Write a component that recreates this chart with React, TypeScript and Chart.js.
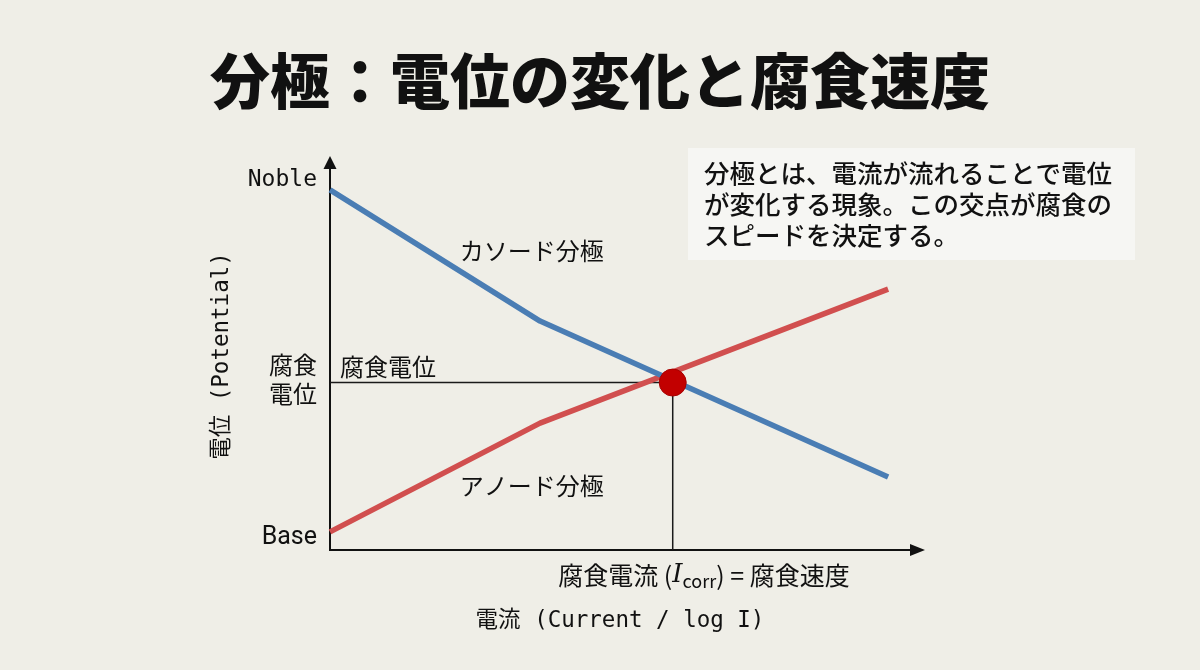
import React, { useEffect, useRef } from "react";
import { Chart, registerables } from "chart.js";

Chart.register(...registerables);

const TITLE = "分極：電位の変化と腐食速度";
const currentX = [0, 35.3, 93.8];
const cathodicY = [91.4, 58.1, 18.5];
const anodicY = [4.6, 32.2, 66.2];
const corrX = 57.6;
const corrY = 42.5;
const yTickValues = [94.0, 43.3, 3.0];
const yTickLabels = [["Noble"], ["腐食", "電位"], ["Base"]];
const curveLabels = ["カソード分極", "アノード分極", "腐食電位"];
const curveLabelX = [21.8, 21.8, 1.7];
const curveLabelY = [75.9, 16.2, 46.4];
const noteLines = [
  "分極とは、電流が流れることで電位",
  "が変化する現象。この交点が腐食の",
  "スピードを決定する。",
];
const yAxisTitle = "電位 (Potential)";
const xAxisTitle = "電流 (Current / log I)";

const BG = "#efeee7";
const CJK = "'Noto Sans CJK JP'";
const MONO = "'DejaVu Sans Mono', 'Noto Sans CJK JP'";

const decor = {
  id: "decor",
  beforeDraw(chart: any) {
    const { ctx, width, height } = chart;
    ctx.save();
    ctx.fillStyle = BG;
    ctx.fillRect(0, 0, width, height);
    ctx.restore();
  },
  beforeDatasetsDraw(chart: any) {
    const { ctx, chartArea: a, scales } = chart;
    const x0 = scales.x.getPixelForValue(0);
    const y0 = scales.y.getPixelForValue(0);
    ctx.save();
    ctx.strokeStyle = "#111";
    ctx.fillStyle = "#111";
    ctx.lineWidth = 2;
    ctx.beginPath();
    ctx.moveTo(x0, y0);
    ctx.lineTo(x0, a.top + 10);
    ctx.moveTo(x0 - 1, y0);
    ctx.lineTo(a.right - 10, y0);
    ctx.stroke();
    ctx.beginPath();
    ctx.moveTo(x0, a.top);
    ctx.lineTo(x0 - 6.5, a.top + 13);
    ctx.lineTo(x0 + 6.5, a.top + 13);
    ctx.closePath();
    ctx.fill();
    ctx.beginPath();
    ctx.moveTo(a.right, y0);
    ctx.lineTo(a.right - 15, y0 - 6);
    ctx.lineTo(a.right - 15, y0 + 6);
    ctx.closePath();
    ctx.fill();
    ctx.restore();
  },
  afterDraw(chart: any) {
    const { ctx, scales } = chart;
    const xs = scales.x;
    const ys = scales.y;
    const x0 = xs.getPixelForValue(0);
    ctx.save();
    ctx.fillStyle = "#111";
    ctx.textBaseline = "middle";

    // Title
    ctx.font = `900 60px ${CJK}`;
    ctx.textAlign = "center";
    ctx.fillText(TITLE, 600, 81);

    // Note box
    ctx.fillStyle = "#f6f6f3";
    ctx.fillRect(688, 148, 447, 112);
    ctx.fillStyle = "#111";
    ctx.textAlign = "left";
    ctx.font = `500 25.5px ${CJK}`;
    noteLines.forEach((l, i) => ctx.fillText(l, 704, 173 + i * 31));

    // Y tick labels
    ctx.textAlign = "right";
    yTickLabels.forEach((lines, i) => {
      const yc = ys.getPixelForValue(yTickValues[i]);
      if (i === 0) ctx.font = `23px ${MONO}`;
      else if (i === 2) ctx.font = `25px Roboto`;
      else ctx.font = `24px ${CJK}`;
      const n = lines.length;
      lines.forEach((t, j) => {
        ctx.fillText(t, x0 - 13, yc + (j - (n - 1) / 2) * 29);
      });
    });

    // Curve labels
    ctx.textAlign = "left";
    ctx.font = `24px ${CJK}`;
    curveLabels.forEach((t, i) => {
      ctx.fillText(t, xs.getPixelForValue(curveLabelX[i]), ys.getPixelForValue(curveLabelY[i]));
    });

    // Y axis title
    ctx.save();
    ctx.translate(222, 356);
    ctx.rotate(-Math.PI / 2);
    ctx.textAlign = "center";
    ctx.font = `22.5px ${MONO}`;
    ctx.fillText(yAxisTitle, 0, 0);
    ctx.restore();

    // X axis title
    ctx.textAlign = "center";
    ctx.font = `22.5px ${MONO}`;
    ctx.fillText(xAxisTitle, 620, 621);

    // Icorr annotation
    const runs: [string, string, number][] = [
      ["腐食電流 (", `25px ${CJK}`, 0],
      ["I", `italic 26px 'DejaVu Serif'`, 0],
      ["corr", `18px ${CJK}`, 6],
      [") = 腐食速度", `25px ${CJK}`, 0],
    ];
    let total = 0;
    runs.forEach(([t, f]) => {
      ctx.font = f;
      total += ctx.measureText(t).width;
    });
    let cx = 704 - total / 2;
    ctx.textAlign = "left";
    const ay = 575;
    runs.forEach(([t, f, dy]) => {
      ctx.font = f;
      ctx.fillText(t, cx, ay + dy);
      cx += ctx.measureText(t).width;
    });

    ctx.restore();
  },
};

export default function App() {
  const ref = useRef<HTMLCanvasElement | null>(null);
  useEffect(() => {
    document.body.style.margin = "0";
    document.body.style.background = BG;
    const canvas = ref.current;
    if (!canvas) return;
    const chart = new Chart(canvas, {
      type: "line",
      data: {
        datasets: [
          {
            label: "cathodic",
            data: currentX.map((x, i) => ({ x, y: cathodicY[i] })),
            borderColor: "#4a7db4",
            borderWidth: 5.5,
            pointRadius: 0,
            borderJoinStyle: "round",
            clip: false,
            order: 2,
          },
          {
            label: "anodic",
            data: currentX.map((x, i) => ({ x, y: anodicY[i] })),
            borderColor: "#d14f4f",
            borderWidth: 5.5,
            pointRadius: 0,
            borderJoinStyle: "round",
            clip: false,
            order: 2,
          },
          {
            label: "guides",
            data: [
              { x: 0, y: corrY },
              { x: corrX, y: corrY },
              { x: corrX, y: 0 },
            ],
            borderColor: "#1a1a1a",
            borderWidth: 1.5,
            pointRadius: 0,
            clip: false,
            order: 3,
          },
          {
            label: "corrosion point",
            data: [{ x: corrX, y: corrY }],
            showLine: false,
            pointRadius: 13.5,
            pointBackgroundColor: "#c20000",
            pointBorderColor: "#a80000",
            pointBorderWidth: 1,
            clip: false,
            order: 1,
          },
        ] as any,
      },
      options: {
        responsive: false,
        animation: false,
        events: [],
        layout: { padding: { left: 330, right: 275, top: 156, bottom: 120 } },
        scales: {
          x: { type: "linear", min: 0, max: 100, display: false },
          y: { type: "linear", min: 0, max: 100, display: false },
        },
        plugins: { legend: { display: false }, tooltip: { enabled: false } },
      },
      plugins: [decor],
    });
    return () => chart.destroy();
  }, []);
  return (
    <div style={{ width: 1200, height: 670, background: BG }}>
      <canvas ref={ref} width={1200} height={670} style={{ display: "block" }} />
    </div>
  );
}
